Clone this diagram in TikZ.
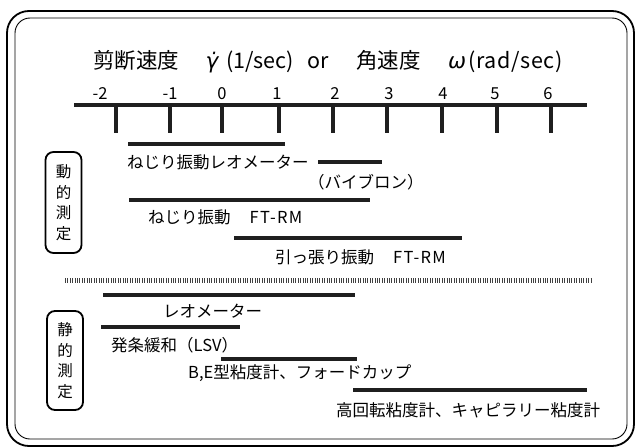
\documentclass[tikz,border=0pt]{standalone}
\usepackage{fontspec}
\setmainfont{Noto Sans CJK JP}
\newfontfamily\greekfont{DejaVu Sans}[FakeSlant=0.18]
\newcommand{\wideltr}[1]{{\addfontfeature{LetterSpace=8}#1}}
\begin{document}
\begin{tikzpicture}[x=1pt,y=-1pt,
  bar/.style={line width=4pt, draw=black!88},
  axistick/.style={line width=3.3pt, draw=black!88},
  lab/.style={anchor=west, inner sep=0pt, font=\fontsize{16.5}{20}\selectfont, text height=14.5pt, text depth=2pt},
  ttl/.style={anchor=west, inner sep=0pt, font=\fontsize{21.5}{26}\selectfont, text height=18.9pt, text depth=2.6pt},
  num/.style={inner sep=0pt, font=\fontsize{16.5}{18}\selectfont, text height=14pt, text depth=1.8pt},
  catbox/.style={draw, line width=1.8pt, rounded corners=8pt, inner sep=0pt, minimum width=36pt, align=center, font=\fontsize{15.5}{20.5}\selectfont}
]
\useasboundingbox (0,0) rectangle (636,447);
% frame
\draw[line width=1.8pt, rounded corners=22pt] (7,11) rectangle (634,446);
\draw[line width=0.9pt, rounded corners=15pt] (15,18) rectangle (627,439);
% title
\node[ttl] (t1) at (93,60) {剪断速度};
\node[ttl] (t2) at (205,60) {{\greekfont γ̇}};
\node[ttl] (t3) at (226,60) {(1/sec)};
\node[ttl] (t4) at (307,60) {or};
\node[ttl] (t5) at (356,60) {角速度};
\node[ttl] (t6) at (447,60) {{\greekfont ω}};
\node[ttl] (t7) at (468,60) {{\addfontfeature{LetterSpace=3}(rad/sec)}};
% axis
\coordinate (axL) at (74,105);
\coordinate (axR) at (587,105);
\draw[line width=4pt, black!88] (axL) -- (axR);
\foreach \lab/\lx/\tx [count=\i] in {-2/100/116, -1/170/170, 0/222/222, 1/277/279, 2/335/333, 3/389/387, 4/443/442, 5/495/497, 6/548/551} {
  \node[num] (n\i) at (\lx,93) {\lab};
  \draw[axistick] (\tx,105) -- (\tx,133);
}
% dynamic
\node[catbox, minimum height=101pt] (dyn) at (63.5,202.5) {動\\的\\測\\定};
\draw[bar] (128,144) -- (285,144);
\node[lab] (d1) at (127,162) {ねじり振動レオメーター};
\draw[bar] (318,162) -- (382,162);
\node[lab] (d1b) at (308,182) {（バイブロン）};
\draw[bar] (129,200) -- (370,200);
\node[lab] (d2) at (148,217) {ねじり振動\hspace{19pt}\wideltr{FT-RM}};
\draw[bar] (234,238) -- (462,238);
\node[lab] (d3) at (275,257) {引っ張り振動\hspace{19pt}\wideltr{FT-RM}};
% separator
\draw[line width=5pt, black!75, dash pattern=on 1pt off 1.4pt] (65,280) -- (592,280);
% static
\node[catbox, minimum height=99pt] (stat) at (65,360.5) {静\\的\\測\\定};
\draw[bar] (103,295) -- (355,295);
\node[lab] (s1) at (163,311) {レオメーター};
\draw[bar] (101,327) -- (240,327);
\node[lab] (s2) at (111,345) {発条緩和（LSV）};
\draw[bar] (221,359) -- (357,359);
\node[lab] (s3) at (188,372) {B,E型粘度計、フォードカップ};
\draw[bar] (353,390) -- (587,390);
\node[lab] (s4) at (336,410) {高回転粘度計、キャピラリー粘度計};
\end{tikzpicture}
\end{document}
